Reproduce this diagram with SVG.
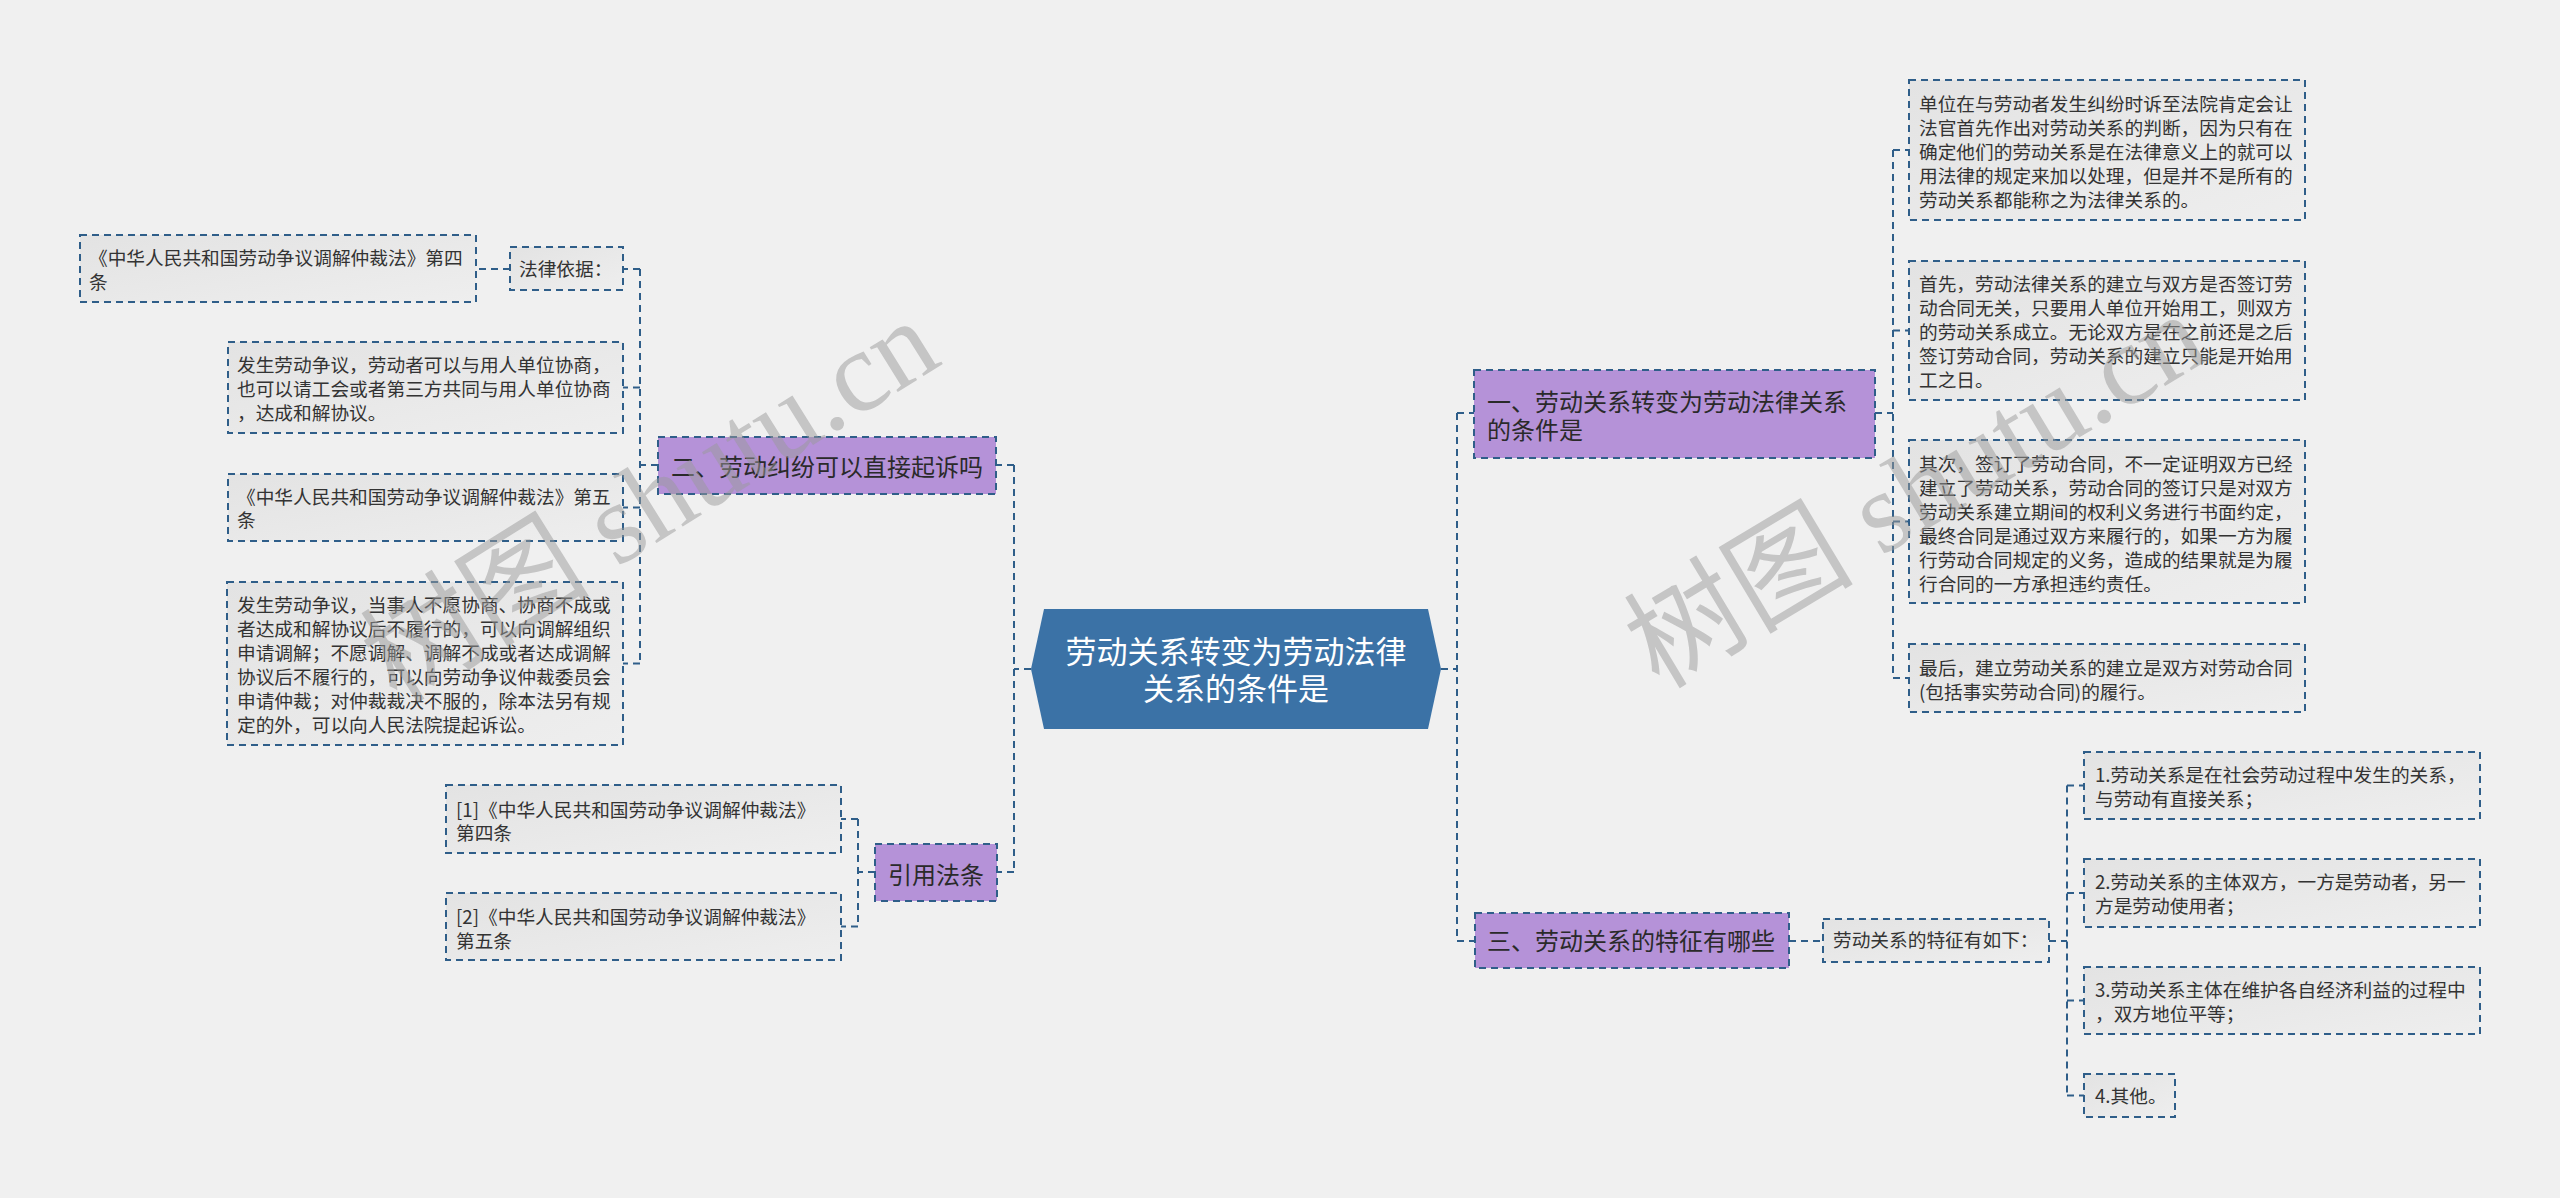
<svg xmlns="http://www.w3.org/2000/svg" width="2560" height="1198" viewBox="0 0 2560 1198">
<defs>
<linearGradient id="g" x1="0" y1="0" x2="1" y2="1">
<stop offset="0" stop-color="#e3e3e3"/>
<stop offset="1" stop-color="#eeeeee"/>
</linearGradient>
</defs>
<style>
.bx{fill:url(#g);stroke:#2f5e89;stroke-width:2;stroke-dasharray:7 5}
.pp{fill:#b592d8;stroke:#2f5e89;stroke-width:2;stroke-dasharray:7 5}
.t{font-family:"Noto Sans CJK SC","Liberation Sans",sans-serif;font-size:18.7px;fill:#333}
.tp{font-family:"Noto Sans CJK SC","Liberation Sans",sans-serif;font-size:24px;fill:#2a2a2a}
.tr{font-family:"Noto Sans CJK SC","Liberation Sans",sans-serif;font-size:31px;fill:#ffffff;text-anchor:middle}
.c{fill:none;stroke:#2f5e89;stroke-width:2;stroke-dasharray:7 5}
.wm{font-family:"Liberation Serif","Noto Sans CJK SC",serif;font-size:115px;fill:#999999;fill-opacity:0.5}
</style>
<rect width="2560" height="1198" fill="#f0f0f0"/>

<g id="connectors">
<path class="c" d="M1031 669H1014M1014 465V872M1014 465H996M1014 872H997"/>
<path class="c" d="M658 465H640M640 269V663.5M640 269H623M640 387.5H623M640 507.5H623M640 663.5H623"/>
<path class="c" d="M510 269H476"/>
<path class="c" d="M875 872H858M858 819V926.5M858 819H841M858 926.5H841"/>
<path class="c" d="M1441 669H1457M1457 413V941M1457 413H1474M1457 941H1475"/>
<path class="c" d="M1875 413H1893M1893 150V678M1893 150H1909M1893 330.5H1909M1893 521.5H1909M1893 678H1909"/>
<path class="c" d="M1789 941H1823M2049 941H2067M2067 785.5V1095.5M2067 785.5H2084M2067 893H2084M2067 1000.5H2084M2067 1095.5H2084"/>
</g>

<g id="root">
<polygon points="1044,609 1428,609 1441,669 1428,729 1044,729 1031,669" fill="#3b72a6"/>
<text class="tr" x="1236" y="662.5">劳动关系转变为劳动法律</text>
<text class="tr" x="1236" y="699.5">关系的条件是</text>
</g>

<g id="n-er">
<rect class="pp" x="658" y="437" width="338" height="57"/>
<text class="tp" x="671" y="475.5">二、劳动纠纷可以直接起诉吗</text>
</g>

<g id="n-falv">
<rect class="bx" x="510" y="247" width="113" height="43"/>
<text class="t" x="519" y="275.5">法律依据：</text>
</g>

<g id="n-a">
<rect class="bx" x="80" y="235" width="396" height="67"/>
<text class="t" x="89" y="265">《中华人民共和国劳动争议调解仲裁法》第四</text>
<text class="t" x="89" y="288.5">条</text>
</g>

<g id="n-b">
<rect class="bx" x="228" y="342" width="395" height="91"/>
<text class="t" x="237" y="372">发生劳动争议，劳动者可以与用人单位协商，</text>
<text class="t" x="237" y="396">也可以请工会或者第三方共同与用人单位协商</text>
<text class="t" x="237" y="420">，达成和解协议。</text>
</g>

<g id="n-c">
<rect class="bx" x="228" y="474" width="395" height="67"/>
<text class="t" x="237" y="503.5">《中华人民共和国劳动争议调解仲裁法》第五</text>
<text class="t" x="237" y="527">条</text>
</g>

<g id="n-d">
<rect class="bx" x="227" y="582" width="396" height="163"/>
<text class="t" x="237" y="612">发生劳动争议，当事人不愿协商、协商不成或</text>
<text class="t" x="237" y="636">者达成和解协议后不履行的，可以向调解组织</text>
<text class="t" x="237" y="660">申请调解；不愿调解、调解不成或者达成调解</text>
<text class="t" x="237" y="684">协议后不履行的，可以向劳动争议仲裁委员会</text>
<text class="t" x="237" y="708">申请仲裁；对仲裁裁决不服的，除本法另有规</text>
<text class="t" x="237" y="732">定的外，可以向人民法院提起诉讼。</text>
</g>

<g id="n-yinyong">
<rect class="pp" x="875" y="844" width="122" height="57"/>
<text class="tp" x="888" y="883.5">引用法条</text>
</g>

<g id="n-e">
<rect class="bx" x="446" y="785" width="395" height="68"/>
<text class="t" x="456" y="817">[1]《中华人民共和国劳动争议调解仲裁法》</text>
<text class="t" x="456" y="840">第四条</text>
</g>

<g id="n-f">
<rect class="bx" x="446" y="893" width="395" height="67"/>
<text class="t" x="456" y="923.5">[2]《中华人民共和国劳动争议调解仲裁法》</text>
<text class="t" x="456" y="948">第五条</text>
</g>

<g id="n-yi">
<rect class="pp" x="1474" y="370" width="401" height="88"/>
<text class="tp" x="1487" y="410.5">一、劳动关系转变为劳动法律关系</text>
<text class="tp" x="1487" y="439">的条件是</text>
</g>

<g id="n-g">
<rect class="bx" x="1909" y="80" width="396" height="140"/>
<text class="t" x="1919" y="110.5">单位在与劳动者发生纠纷时诉至法院肯定会让</text>
<text class="t" x="1919" y="134.5">法官首先作出对劳动关系的判断，因为只有在</text>
<text class="t" x="1919" y="158.5">确定他们的劳动关系是在法律意义上的就可以</text>
<text class="t" x="1919" y="182.5">用法律的规定来加以处理，但是并不是所有的</text>
<text class="t" x="1919" y="206.5">劳动关系都能称之为法律关系的。</text>
</g>

<g id="n-h">
<rect class="bx" x="1909" y="261" width="396" height="139"/>
<text class="t" x="1919" y="290.5">首先，劳动法律关系的建立与双方是否签订劳</text>
<text class="t" x="1919" y="314.5">动合同无关，只要用人单位开始用工，则双方</text>
<text class="t" x="1919" y="338.5">的劳动关系成立。无论双方是在之前还是之后</text>
<text class="t" x="1919" y="362.5">签订劳动合同，劳动关系的建立只能是开始用</text>
<text class="t" x="1919" y="386.5">工之日。</text>
</g>

<g id="n-i">
<rect class="bx" x="1909" y="440" width="396" height="163"/>
<text class="t" x="1919" y="470.5">其次，签订了劳动合同，不一定证明双方已经</text>
<text class="t" x="1919" y="494.5">建立了劳动关系，劳动合同的签订只是对双方</text>
<text class="t" x="1919" y="518.5">劳动关系建立期间的权利义务进行书面约定，</text>
<text class="t" x="1919" y="542.5">最终合同是通过双方来履行的，如果一方为履</text>
<text class="t" x="1919" y="566.5">行劳动合同规定的义务，造成的结果就是为履</text>
<text class="t" x="1919" y="590.5">行合同的一方承担违约责任。</text>
</g>

<g id="n-j">
<rect class="bx" x="1909" y="644" width="396" height="68"/>
<text class="t" x="1919" y="675">最后，建立劳动关系的建立是双方对劳动合同</text>
<text class="t" x="1919" y="698.5">(包括事实劳动合同)的履行。</text>
</g>

<g id="n-san">
<rect class="pp" x="1475" y="913" width="314" height="55"/>
<text class="tp" x="1487" y="950">三、劳动关系的特征有哪些</text>
</g>

<g id="n-k">
<rect class="bx" x="1823" y="919" width="226" height="43"/>
<text class="t" x="1833" y="947">劳动关系的特征有如下：</text>
</g>

<g id="n-l1">
<rect class="bx" x="2084" y="752" width="396" height="67"/>
<text class="t" x="2095" y="782">1.劳动关系是在社会劳动过程中发生的关系，</text>
<text class="t" x="2095" y="806">与劳动有直接关系；</text>
</g>

<g id="n-l2">
<rect class="bx" x="2084" y="859" width="396" height="68"/>
<text class="t" x="2095" y="889">2.劳动关系的主体双方，一方是劳动者，另一</text>
<text class="t" x="2095" y="913">方是劳动使用者；</text>
</g>

<g id="n-l3">
<rect class="bx" x="2084" y="967" width="396" height="67"/>
<text class="t" x="2095" y="996.5">3.劳动关系主体在维护各自经济利益的过程中</text>
<text class="t" x="2095" y="1020.5">，双方地位平等；</text>
</g>

<g id="n-l4">
<rect class="bx" x="2084" y="1074" width="91" height="43"/>
<text class="t" x="2095" y="1103">4.其他。</text>
</g>

<g id="watermarks">
<text class="wm" transform="translate(397 705) rotate(-32)">树图 shutu.cn</text>
<text class="wm" transform="translate(1659 690) rotate(-31)">树图 shutu.cn</text>
</g>
</svg>
